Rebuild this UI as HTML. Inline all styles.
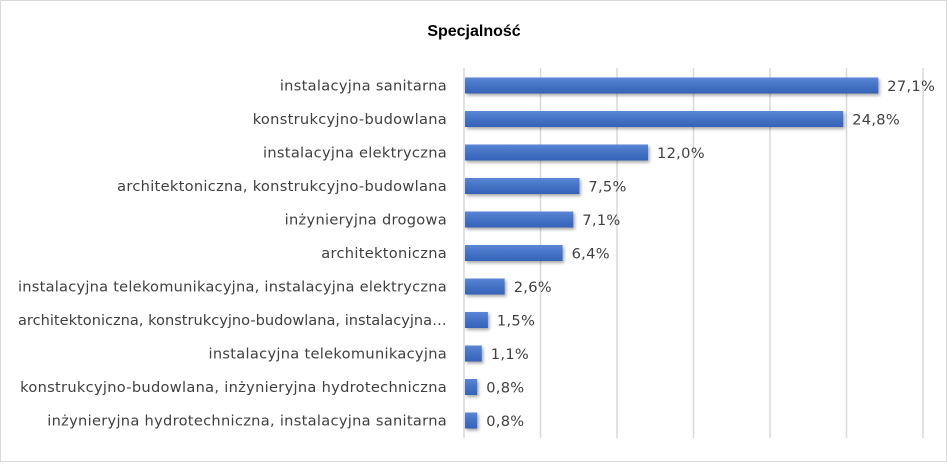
<!DOCTYPE html>
<html><head><meta charset="utf-8"><style>
body{margin:0;background:#fff}
</style></head><body>
<svg width="947" height="462" xmlns="http://www.w3.org/2000/svg" font-family="Liberation Sans, DejaVu Sans, sans-serif">
<defs>
<linearGradient id="g" x1="0" y1="0" x2="0" y2="1">
<stop offset="0" stop-color="#5b86d6"/><stop offset="0.5" stop-color="#4472c4"/><stop offset="1" stop-color="#3563b8"/>
</linearGradient>
<filter id="s" x="-5%" y="-20%" width="115%" height="160%"><feDropShadow dx="1.5" dy="2" stdDeviation="1.5" flood-color="#000" flood-opacity="0.35"/></filter>
</defs>
<rect x="0.5" y="0.5" width="946" height="461" fill="#fff" stroke="#d9d9d9"/>
<text x="474" y="36" text-anchor="middle" font-size="16" font-weight="bold" fill="#000">Specjalność</text>
<g stroke="#d9d9d9" stroke-width="1.5">
<line x1="464" y1="68" x2="464" y2="438"/>
<line x1="540.5" y1="68" x2="540.5" y2="438"/>
<line x1="617" y1="68" x2="617" y2="438"/>
<line x1="693.5" y1="68" x2="693.5" y2="438"/>
<line x1="770" y1="68" x2="770" y2="438"/>
<line x1="846.5" y1="68" x2="846.5" y2="438"/>
<line x1="923" y1="68" x2="923" y2="438"/>
</g>
<g fill="url(#g)" filter="url(#s)">
<rect x="465" y="77.5" width="413.3" height="16"/>
<rect x="465" y="111" width="378.2" height="16"/>
<rect x="465" y="144.5" width="183" height="16"/>
<rect x="465" y="178" width="114.4" height="16"/>
<rect x="465" y="211.5" width="108.3" height="16"/>
<rect x="465" y="245" width="97.6" height="16"/>
<rect x="465" y="278.5" width="39.7" height="16"/>
<rect x="465" y="312" width="22.9" height="16"/>
<rect x="465" y="345.5" width="16.8" height="16"/>
<rect x="465" y="379" width="12.2" height="16"/>
<rect x="465" y="412.5" width="12.2" height="16"/>
</g>
<g font-family="DejaVu Sans, sans-serif" font-size="14.6" fill="#404040" text-anchor="end" letter-spacing="0.3">
<text x="447" y="90.5">instalacyjna sanitarna</text>
<text x="447" y="124">konstrukcyjno-budowlana</text>
<text x="447" y="157.5">instalacyjna elektryczna</text>
<text x="447" y="191">architektoniczna, konstrukcyjno-budowlana</text>
<text x="447" y="224.5">inżynieryjna drogowa</text>
<text x="447" y="258">architektoniczna</text>
<text x="447" y="291.5" textLength="429" lengthAdjust="spacing">instalacyjna telekomunikacyjna, instalacyjna elektryczna</text>
<text x="447" y="325" textLength="429" lengthAdjust="spacing">architektoniczna, konstrukcyjno-budowlana, instalacyjna…</text>
<text x="447" y="358.5">instalacyjna telekomunikacyjna</text>
<text x="447" y="392">konstrukcyjno-budowlana, inżynieryjna hydrotechniczna</text>
<text x="447" y="425.5">inżynieryjna hydrotechniczna, instalacyjna sanitarna</text>
</g>
<g font-family="DejaVu Sans, sans-serif" font-size="14.6" fill="#404040" letter-spacing="0.3">
<text x="887.3" y="91">27,1%</text>
<text x="852.2" y="124.5">24,8%</text>
<text x="657" y="158">12,0%</text>
<text x="588.4" y="191.5">7,5%</text>
<text x="582.3" y="225">7,1%</text>
<text x="571.6" y="258.5">6,4%</text>
<text x="513.7" y="292">2,6%</text>
<text x="496.9" y="325.5">1,5%</text>
<text x="490.8" y="359">1,1%</text>
<text x="486.2" y="392.5">0,8%</text>
<text x="486.2" y="426">0,8%</text>
</g>
</svg>
</body></html>
